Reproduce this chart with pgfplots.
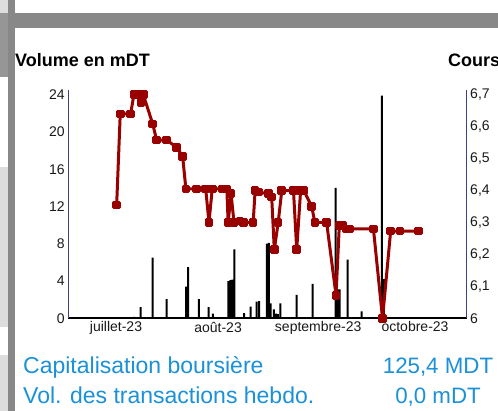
\documentclass[border=0pt]{standalone}
\usepackage{pgfplots}
\pgfplotsset{compat=1.18}
\usepackage{fontspec}
\setmainfont{Liberation Sans}
\definecolor{axblue}{RGB}{60,65,130}
\definecolor{pricered}{RGB}{153,0,0}
\definecolor{txtblue}{RGB}{27,145,215}
\definecolor{barg}{RGB}{136,136,136}
\definecolor{midg}{RGB}{150,150,150}
\definecolor{lightg}{RGB}{221,221,221}
\definecolor{ticktxt}{RGB}{25,25,25}

\begin{document}
\begin{tikzpicture}[x=1pt,y=1pt]
\useasboundingbox (0,0) rectangle (498,411);
\fill[white] (0,0) rectangle (498,411);
\fill[lightg] (0,398) rectangle (7.5,411);
\fill[midg] (0,334) rectangle (7.5,398);
\fill[lightg] (0,84) rectangle (7.5,244);
\fill[lightg] (0,0) rectangle (7.5,56);
\fill[barg] (7.5,0) rectangle (15,411);
\fill[barg] (15,383) rectangle (498,398);

\node[anchor=base west, inner sep=0, font=\fontsize{18}{20}\selectfont\bfseries] at (15,344) {Volume en mDT};
\node[anchor=base west, inner sep=0, font=\fontsize{18}{20}\selectfont\bfseries] at (448,344) {Cours};

\begin{axis}[at={(68.3pt,92.7pt)}, anchor=south west, scale only axis,
  width=398.4pt, height=228.3pt,
  xmin=-14.68, xmax=107.9, ymin=0, ymax=24.5,
  axis x line*=bottom, axis y line*=left,
  x axis line style={black, line width=2pt, -},
  y axis line style={axblue, line width=1.5pt, -},
  xtick={0,31.4,62.2,92},
  xticklabels={juillet-23,août-23,septembre-23,octobre-23},
  ytick={0,4,8,12,16,20,24},
  major tick length=0pt, tick style={draw=none},
  xticklabel style={font=\fontsize{14}{16}\selectfont, text=ticktxt},
  yticklabel style={font=\fontsize{14}{16}\selectfont, text=ticktxt},
  /pgf/number format/assume math mode=true,
  clip=false]
\addplot[ybar, bar width=2pt, fill=black, draw=none] coordinates {
(0.2,0.1) (5.0,0.1) (5.6,0.15) (7.6,1.2) (8.4,0.1) (11.3,6.5) (12.5,0.1)
(14.3,0.1) (15.6,2.05) (18.7,0.1) (21.6,3.4) (22.2,5.5) (25.5,2.05)
(28.5,1.2) (29.8,0.5) (34.6,4.0) (35.2,4.1) (35.8,4.15) (36.4,7.4)
(39.4,0.55) (41.4,1.25) (43.3,1.8) (44.0,1.85) (46.4,8.0) (47.0,8.1)
(47.6,1.6) (48.6,0.95) (49.2,0.5) (49.8,0.45) (50.6,1.6) (55.6,2.5)
(60.5,3.7) (67.6,14.0) (68.2,3.1) (68.8,3.1) (71.3,6.3) (75.6,0.75)
(81.8,23.9) (82.4,4.2)
};
\end{axis}

\begin{axis}[at={(68.3pt,92.7pt)}, anchor=south west, scale only axis,
  width=398.4pt, height=228.3pt,
  xmin=-14.68, xmax=107.9, ymin=6, ymax=6.7148,
  axis x line=none, axis y line*=right,
  y axis line style={axblue, line width=1.5pt, -},
  ytick={6,6.1,6.2,6.3,6.4,6.5,6.6,6.7},
  yticklabels={6,{6,1},{6,2},{6,3},{6,4},{6,5},{6,6},{6,7}},
  major tick length=0pt, tick style={draw=none},
  yticklabel style={font=\fontsize{14}{16}\selectfont, text=ticktxt, color=ticktxt},
  clip=false]
\addplot[pricered, line width=3pt, line join=round, mark=square*, mark size=2.8pt, mark options={solid}] coordinates {
(0.2,6.355) (1.3,6.64) (4.5,6.64) (5.5,6.70) (6.7,6.70) (7.7,6.676)
(8.4,6.70) (11.3,6.608) (12.5,6.558) (15.6,6.558) (18.7,6.535)
(20.5,6.507) (21.5,6.405) (24.8,6.405) (27.6,6.405) (28.6,6.30)
(29.6,6.405) (32.6,6.405) (34.1,6.405) (34.5,6.30) (35.4,6.39)
(36.3,6.30) (38.2,6.305) (39.2,6.30) (42.2,6.30) (42.8,6.40)
(43.8,6.395) (46.9,6.39) (47.9,6.38) (48.7,6.215) (49.9,6.30)
(51.0,6.40) (54.6,6.40) (55.6,6.215) (56.8,6.40) (57.8,6.40)
(60.2,6.35) (61.2,6.30) (64.8,6.30) (67.7,6.072) (68.7,6.29)
(69.8,6.29) (71.0,6.28) (72.0,6.28) (79.2,6.28) (82.0,6.00)
(84.5,6.273) (87.4,6.273) (93.0,6.273)
};
\end{axis}

\node[anchor=base west, inner sep=0, text=txtblue, font=\fontsize{23}{26}\selectfont] at (23,37) {Capitalisation boursière};
\node[anchor=base west, inner sep=0, text=txtblue, font=\fontsize{23}{26}\selectfont] at (23,7) {Vol. des transactions hebdo.};
\node[anchor=base, inner sep=0, text=txtblue, font=\fontsize{22.3}{26}\selectfont] at (438,37) {125,4 MDT};
\node[anchor=base, inner sep=0, text=txtblue, font=\fontsize{22.3}{26}\selectfont] at (438,7) {0,0 mDT};
\end{tikzpicture}
\end{document}
